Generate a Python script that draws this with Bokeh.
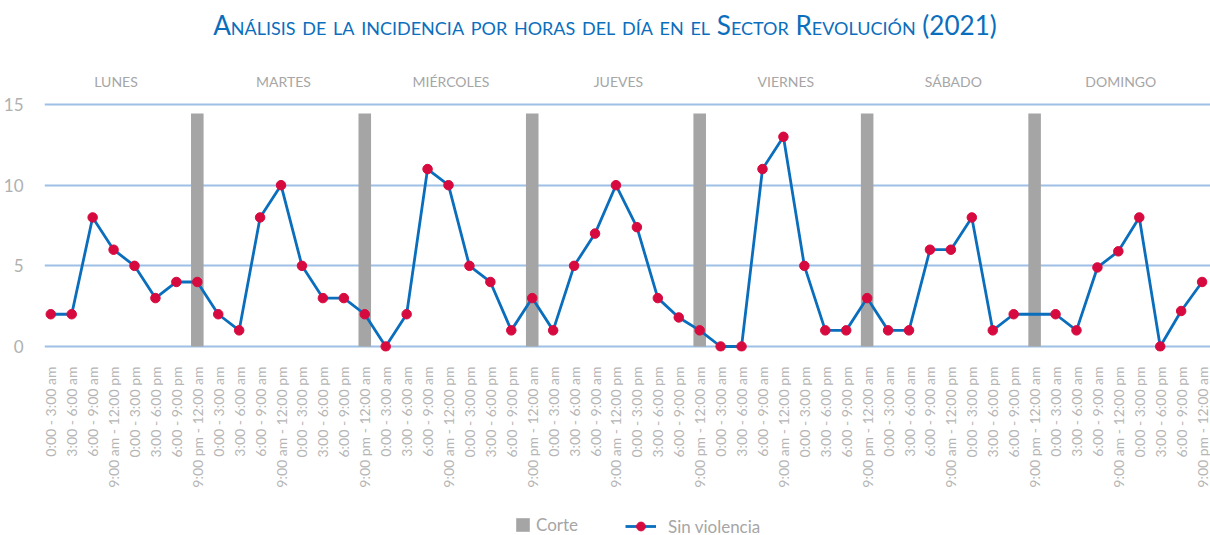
import math
from bokeh.plotting import figure
from bokeh.models import (ColumnDataSource, FixedTicker, Legend, LegendItem, Div, Range1d)
from bokeh.layouts import column
from bokeh.embed import file_html
from bokeh.resources import INLINE
from bokeh.core.properties import value

# ---------------- data ----------------
days = ["LUNES", "MARTES", "MIÉRCOLES", "JUEVES", "VIERNES", "SÁBADO", "DOMINGO"]
slots = ["0:00 - 3:00 am", "3:00 - 6:00 am", "6:00 - 9:00 am", "9:00 am - 12:00 pm",
         "0:00 - 3:00 pm", "3:00 - 6:00 pm", "6:00 - 9:00 pm", "9:00 pm - 12:00 am"]
sin_violencia = [2, 2, 8, 6, 5, 3, 4, 4,
                 2, 1, 8, 10, 5, 3, 3, 2,
                 0, 2, 11, 10, 5, 4, 1, 3,
                 1, 5, 7, 10, 7.4, 3, 1.8, 1,
                 0, 0, 11, 13, 5, 1, 1, 3,
                 1, 1, 6, 6, 8, 1, 2, None,
                 2, 1, 4.9, 5.9, 8, 0, 2.2, 4]
corte_days = ["LUNES", "MARTES", "MIÉRCOLES", "JUEVES", "VIERNES", "SÁBADO"]
corte_value = 14.45
y_ticks = [0, 5, 10, 15]
title_text = "Análisis de la incidencia por horas del día en el Sector Revolución (2021)"

# ---------------- derived ----------------
n_slots = len(slots)
labels = [s for d in days for s in slots]
xs = list(range(len(labels)))
pts = [(x, v) for x, v in zip(xs, sin_violencia) if v is not None]
line_src = ColumnDataSource(dict(x=[a for a, _ in pts], y=[b for _, b in pts]))
corte_x = [days.index(d) * n_slots + (n_slots - 1) for d in corte_days]
corte_src = ColumnDataSource(dict(x=corte_x, top=[corte_value] * len(corte_x)))
day_src = ColumnDataSource(dict(x=[i * n_slots + (n_slots - 1) / 2 for i in range(len(days))],
                                y=[16.43] * len(days), t=days))

FONT = "Lato"
GRAY = "#a6a6a6"
BAR_C = "#a5a5a5"
LINE_C = "#0a6ebd"
DOT_C = "#d70a3f"

p = figure(frame_width=1167, frame_height=291,
           x_range=Range1d(-0.3, 55.45), y_range=Range1d(-0.31, 17.73),
           output_backend="svg", toolbar_location=None,
           min_border_left=43, min_border_right=0, min_border_top=12, min_border_bottom=154)
p.outline_line_color = None

p.xgrid.visible = False
p.ygrid.ticker = FixedTicker(ticks=y_ticks)
p.ygrid.grid_line_color = "#9fc0e6"
p.ygrid.grid_line_width = 1.8

p.yaxis.ticker = FixedTicker(ticks=y_ticks)
p.yaxis.axis_line_color = None
p.yaxis.major_tick_line_color = None
p.yaxis.minor_tick_line_color = None
p.yaxis.major_label_text_font = FONT
p.yaxis.major_label_text_font_size = "17px"
p.yaxis.major_label_text_color = "#b0b0b0"
p.yaxis.major_label_standoff = 15

p.xaxis.ticker = FixedTicker(ticks=xs)
p.xaxis.major_label_overrides = {i: lab for i, lab in zip(xs, labels)}
p.xaxis.major_label_orientation = math.pi / 2
p.xaxis.axis_line_color = None
p.xaxis.major_tick_line_color = None
p.xaxis.minor_tick_line_color = None
p.xaxis.major_label_text_font = FONT
p.xaxis.major_label_text_font_size = "14px"
p.xaxis.major_label_text_color = "#b5b5b5"
p.xaxis.major_label_standoff = 9

p.vbar(x="x", top="top", width=0.6, source=corte_src, fill_color=BAR_C, line_color=None)
p.line(x="x", y="y", source=line_src, line_color=LINE_C, line_width=2.8)
p.scatter(x="x", y="y", source=line_src, size=9.5, fill_color=DOT_C, line_color=DOT_C)

p.text(x="x", y="y", text="t", source=day_src, text_align="center", text_baseline="middle",
       text_font=value(FONT), text_font_size="14px", text_color=GRAY, x_offset=-8)

# ---------------- legend strip ----------------
lg = figure(width=1210, height=30, x_range=Range1d(0, 1), y_range=Range1d(0, 1),
            output_backend="svg", toolbar_location=None, x_axis_type=None, y_axis_type=None,
            min_border_left=0, min_border_right=0, min_border_top=0, min_border_bottom=0)
lg.outline_line_color = None
lg.xgrid.visible = False
lg.ygrid.visible = False
# off-screen sample so the legend swatches have styles to draw
sample = ColumnDataSource(dict(x=[-5], y=[-5], top=[-4]))
r_bar = lg.vbar(x="x", top="top", width=0.6, source=sample, fill_color=BAR_C, line_color=None)
r_ln = lg.line(x="x", y="y", source=sample, line_color=LINE_C, line_width=2.8)
r_sc = lg.scatter(x="x", y="y", source=sample, size=9.5, fill_color=DOT_C, line_color=DOT_C)

leg1 = Legend(items=[LegendItem(label="Corte", renderers=[r_bar])],
              location=(470, 0), orientation="horizontal",
              glyph_width=17, glyph_height=17, label_height=17, label_standoff=5,
              padding=0, margin=0, border_line_color=None, background_fill_alpha=0,
              label_text_font=FONT, label_text_font_size="17px", label_text_color=GRAY)
leg2 = Legend(items=[LegendItem(label="Sin violencia", renderers=[r_ln, r_sc])],
              location=(581, -2), orientation="horizontal",
              glyph_width=31, glyph_height=22, label_height=22, label_standoff=12,
              padding=0, margin=0, border_line_color=None, background_fill_alpha=0,
              label_text_font=FONT, label_text_font_size="17px", label_text_color=GRAY)
lg.add_layout(leg1, "center")
lg.add_layout(leg2, "center")

title = Div(text=title_text, width=1210, height=48, margin=(0, 0, 0, 0),
            styles={"font-family": FONT, "font-size": "26.1px", "font-variant": "small-caps",
                    "color": LINE_C, "text-align": "center", "line-height": "50px",
                    "width": "1210px"})

layout = column(title, p, lg, spacing=0)
open("out.html", "w").write(file_html(layout, INLINE))
